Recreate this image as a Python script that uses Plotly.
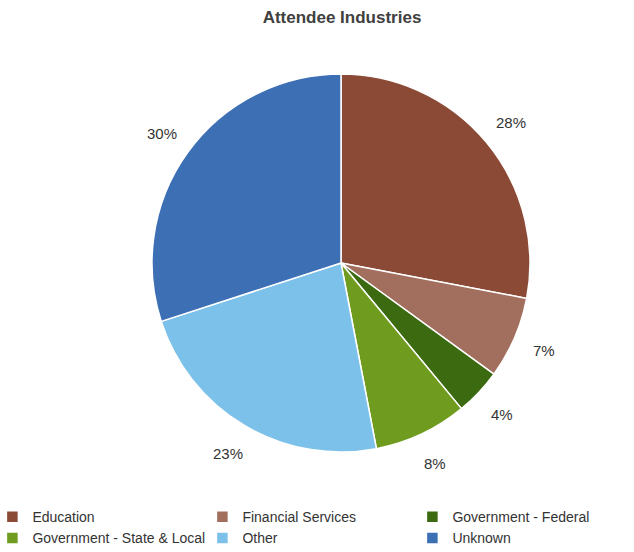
import math
import plotly.graph_objects as go

# Attendee industry breakdown (percent of attendees)
industries = ["Education", "Financial Services", "Government - Federal",
              "Government - State & Local", "Other", "Unknown"]
shares = [28, 7, 4, 8, 23, 30]
colors = ["#8B4A36", "#A26F5E", "#3B6A10", "#6F9C1E", "#7CC1E9", "#3D6FB5"]

W, H = 634, 552
cx, cy, R = 341, 263, 189          # pie centre / radius in px (from top-left)
label_r = 1.17 * R                  # distance of the percentage labels

dom_x = [(cx - R) / W, (cx + R) / W]
dom_y = [(H - cy - R) / H, (H - cy + R) / H]

fig = go.Figure(go.Pie(
    labels=industries,
    values=shares,
    sort=False,
    direction="clockwise",
    rotation=0,
    marker=dict(colors=colors, line=dict(color="white", width=1.5)),
    textinfo="none",
    hoverinfo="label+percent",
    domain=dict(x=dom_x, y=dom_y),
))

# percentage labels placed around the pie at each slice's mid-angle
total = sum(shares)
annotations = []
cum = 0
for v in shares:
    mid = (cum + v / 2) / total * 2 * math.pi
    cum += v
    px = cx + label_r * math.sin(mid)
    py = cy - label_r * math.cos(mid)
    annotations.append(dict(
        x=px / W, y=(H - py) / H, xref="paper", yref="paper",
        text=f"{round(v / total * 100)}%", showarrow=False,
        font=dict(size=15, color="#333333"),
        xanchor="center", yanchor="middle",
    ))

fig.update_layout(
    width=W, height=H,
    margin=dict(l=0, r=0, t=0, b=0, autoexpand=False),
    paper_bgcolor="white",
    font=dict(family="Liberation Sans, Arial, sans-serif", color="#333333"),
    title=dict(text="<b>Attendee Industries</b>", x=342 / W, xanchor="center",
               y=1 - 17 / H, yanchor="middle",
               font=dict(size=17, color="#404040")),
    annotations=annotations,
    showlegend=True,
    legend=dict(orientation="h", x=-0.012, xanchor="left", y=-0.004, yanchor="bottom",
                entrywidth=165, entrywidthmode="pixels",
                font=dict(size=14, color="#333333"),
                traceorder="normal", itemwidth=30),
)

fig.write_html("out.html")
